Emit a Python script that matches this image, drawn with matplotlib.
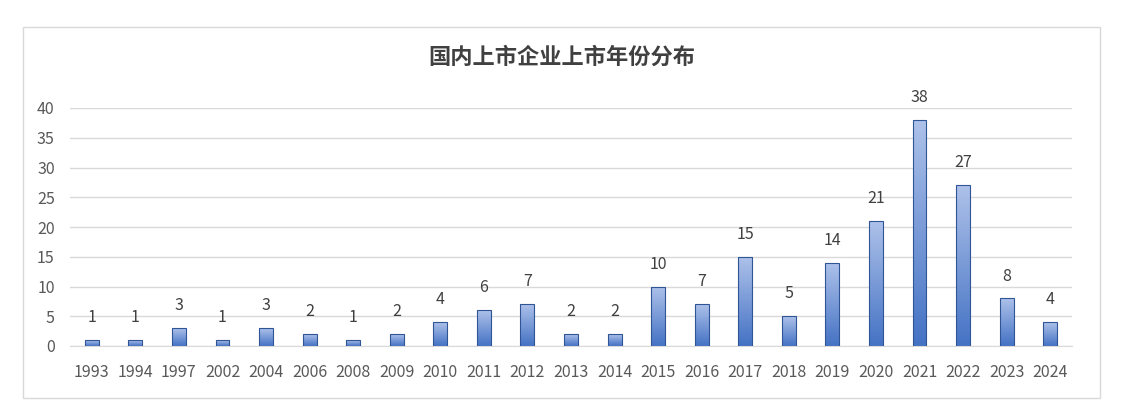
import numpy as np
import matplotlib.pyplot as plt
from matplotlib.patches import Rectangle
from matplotlib.colors import LinearSegmentedColormap

plt.rcParams['font.family'] = ['Noto Sans CJK SC', 'DejaVu Sans']

years = ['1993', '1994', '1997', '2002', '2004', '2006', '2008', '2009', '2010', '2011',
         '2012', '2013', '2014', '2015', '2016', '2017', '2018', '2019', '2020', '2021',
         '2022', '2023', '2024']
counts = [1, 1, 3, 1, 3, 2, 1, 2, 4, 6, 7, 2, 2, 10, 7, 15, 5, 14, 21, 38, 27, 8, 4]
title = '国内上市企业上市年份分布'

fig = plt.figure(figsize=(11.22, 4.2), dpi=100)
# outer chart border
fig.patches.append(Rectangle((23 / 1122, 1 - 398 / 420), (1100 - 23) / 1122, (398 - 27) / 420,
                             transform=fig.transFigure, fill=False, edgecolor='#d9d9d9', lw=1))

ax = fig.add_axes([70 / 1122, 1 - 346 / 420, (1072 - 70) / 1122, (346 - 108) / 420])
x = np.arange(len(years))
w = 0.32
bars = ax.bar(x, counts, width=w, color='none', edgecolor='#2f5597', lw=0.8, zorder=3)

cmap = LinearSegmentedColormap.from_list('grad', ['#aec2ea', '#4472c4'])
grad = np.linspace(0, 1, 256).reshape(-1, 1)
for b, v in zip(bars, counts):
    im = ax.imshow(grad, cmap=cmap, aspect='auto', origin='upper',
                   extent=(b.get_x(), b.get_x() + w, 0, v), zorder=2)
    im.set_clip_path(b)
    ax.annotate(str(v), (b.get_x() + w / 2, v), xytext=(0, 10), textcoords='offset points',
                ha='center', va='bottom', fontsize=11.5, color='#404040')

ax.set_xlim(-0.5, len(years) - 0.5)
ax.set_ylim(0, 40)
ax.set_yticks(range(0, 41, 5))
ax.set_xticks(x)
ax.set_xticklabels(years)
ax.tick_params(length=0, labelsize=11.5, labelcolor='#595959')
ax.tick_params(axis='y', pad=11)
ax.tick_params(axis='x', pad=13)
ax.grid(axis='y', color='#d9d9d9', lw=1, zorder=0)
ax.set_axisbelow(True)
for s in ['top', 'right', 'left']:
    ax.spines[s].set_visible(False)
ax.spines['bottom'].set_color('#d9d9d9')

fig.text(562 / 1122, 1 - 57 / 420, title, ha='center', va='center', fontsize=16,
         fontweight='bold', color='#404040')

fig.savefig('out.png', dpi=100)
